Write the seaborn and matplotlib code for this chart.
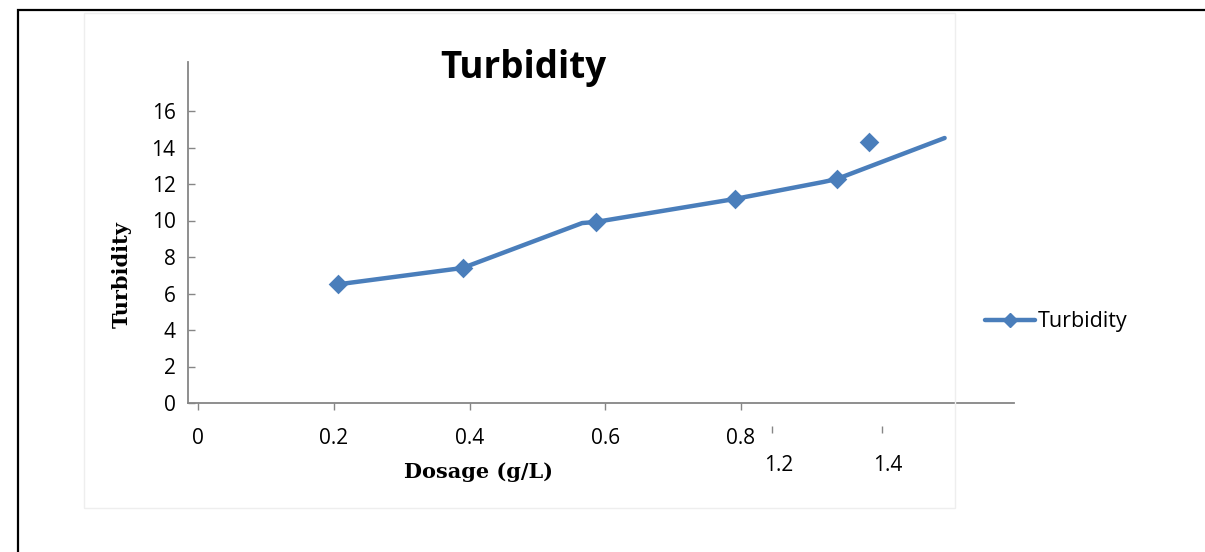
import matplotlib
matplotlib.use("Agg")
import matplotlib.pyplot as plt
import seaborn as sns
import pandas as pd
from matplotlib.lines import Line2D
from matplotlib.patches import Rectangle
from matplotlib.transforms import ScaledTranslation

# ---- data ----
line_dosage = [0.206, 0.390, 0.566, 0.586, 0.791, 0.921, 0.941, 1.100]
line_turbidity = [6.50, 7.40, 9.86, 9.92, 11.18, 12.11, 12.27, 14.52]
marker_dosage = [0.206, 0.390, 0.586, 0.791, 0.941, 0.989]
marker_turbidity = [6.50, 7.40, 9.92, 11.18, 12.27, 14.30]
x_ticks = [0, 0.2, 0.4, 0.6, 0.8]
x_tick_labels = ["0", "0.2", "0.4", "0.6", "0.8"]
stray_ticks = [0.846, 1.008]
stray_labels = ["1.2", "1.4"]
y_ticks = [0, 2, 4, 6, 8, 10, 12, 14, 16]
series_name = "Turbidity"

sns.set_theme(style="white")
plt.rcParams["font.family"] = ["Open Sans", "DejaVu Sans"]
plt.rcParams["text.color"] = "black"
plt.rcParams["axes.labelcolor"] = "black"

W, H = 1205, 552
fig = plt.figure(figsize=(W / 100, H / 100), dpi=100)
L, R, B, T = 188, 1014, 403, 62
ax = fig.add_axes([L / W, 1 - B / H, (R - L) / W, (B - T) / H])

color = "#4A7EBB"
axis_grey = "#868686"

df_line = pd.DataFrame({"Dosage": line_dosage, "Turbidity": line_turbidity})
df_mark = pd.DataFrame({"Dosage": marker_dosage, "Turbidity": marker_turbidity})

sns.lineplot(data=df_line, x="Dosage", y="Turbidity", sort=False, estimator=None,
             color=color, linewidth=3.2, ax=ax, solid_capstyle="round",
             solid_joinstyle="round")
sns.scatterplot(data=df_mark, x="Dosage", y="Turbidity", marker="D", s=100,
                color=color, edgecolor=color, linewidth=0, ax=ax, zorder=3)

x0 = 198
px_per_unit_x = 678.75
ax.set_xlim((L - x0) / px_per_unit_x, (R - x0) / px_per_unit_x)
ax.set_ylim(0, (B - T) / 18.25)

ax.set_xticks(x_ticks, labels=x_tick_labels)
ax.set_yticks(y_ticks, labels=[str(v) for v in y_ticks])

for s in ["top", "right"]:
    ax.spines[s].set_visible(False)
for s in ["left", "bottom"]:
    ax.spines[s].set_color(axis_grey)
    ax.spines[s].set_linewidth(1.3)

ax.tick_params(axis="y", direction="in", length=5, width=1, color=axis_grey,
               pad=9, labelsize=15, labelcolor="black", left=True)
ax.tick_params(axis="x", direction="out", length=5, width=1, color=axis_grey,
               pad=13, labelsize=15, labelcolor="black", bottom=True)

# stray secondary tick row
sec = ax.secondary_xaxis(location=-23 / (B - T))
sec.set_xticks(stray_ticks, labels=stray_labels)
sec.spines["bottom"].set_visible(False)
sec.tick_params(direction="out", length=5, width=1, color=axis_grey, pad=16,
                labelsize=15, labelcolor="black")
for lab in sec.get_xticklabels():
    lab.set_transform(lab.get_transform() + ScaledTranslation(6 / 100, 0, fig.dpi_scale_trans))

# labels
ax.set_xlabel("Dosage (g/L)", family="DejaVu Serif", fontweight="bold", fontsize=15)
ax.set_ylabel("Turbidity", family="DejaVu Serif", fontweight="bold", fontsize=15)
ax.xaxis.label.set_va("center")
ax.yaxis.label.set_va("center")
ax.xaxis.set_label_coords((478 - L) / (R - L), (B - 472) / (B - T))
ax.yaxis.set_label_coords((122 - L) / (R - L), (B - 275) / (B - T))

ax.text((523 - L) / (R - L), (B - 68) / (B - T), "Turbidity", transform=ax.transAxes,
        ha="center", va="center", fontsize=26.5, fontweight="bold", color="black")

# legend
handle = Line2D([], [], color=color, linewidth=3.2, marker="D", markersize=7,
                solid_capstyle="round")
fig.legend([handle], [series_name], loc="center left",
           bbox_to_anchor=(985 / W, 1 - 322 / H), frameon=False, fontsize=15.5,
           handlelength=2.3, handletextpad=0.15, borderaxespad=0, borderpad=0)

# outer frames
fig.patches.append(Rectangle((84 / W, 1 - 508 / H), (955 - 84) / W, (508 - 13) / H,
                             transform=fig.transFigure, fill=False,
                             edgecolor="#EEEEEE", linewidth=1, zorder=0))
fig.patches.append(Rectangle((18 / W, -0.2), 2.0, 1.2 - 10 / H,
                             transform=fig.transFigure, fill=False,
                             edgecolor="black", linewidth=1.6, zorder=5))

fig.savefig("out.png", dpi=100)
